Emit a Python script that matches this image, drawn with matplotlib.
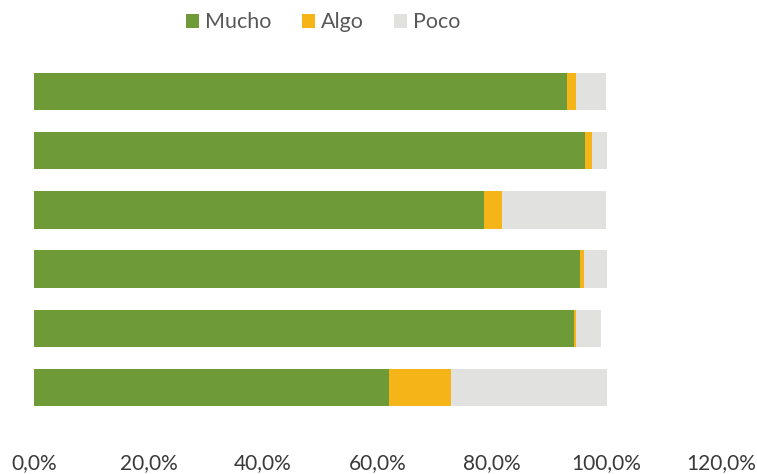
import matplotlib
import matplotlib.pyplot as plt
from matplotlib.ticker import FuncFormatter
matplotlib.use('Agg')

categories = ["1", "2", "3", "4", "5", "6"]
mucho = [93.1, 96.2, 78.6, 95.4, 94.3, 62.0]
algo = [1.6, 1.2, 3.1, 0.7, 0.3, 10.9]
poco = [5.3, 2.6, 18.3, 3.9, 4.4, 27.1]
xticks = [0, 20, 40, 60, 80, 100, 120]


def main():
    plt.rcParams['font.family'] = ['Lato', 'DejaVu Sans']
    fig = plt.figure(figsize=(7.57, 4.74), dpi=100)
    ax = fig.add_axes([34 / 757, 1 - 417 / 474, 687 / 757, 355 / 474])

    pos = list(range(len(categories)))
    left2 = [m + a for m, a in zip(mucho, algo)]
    ax.barh(pos, mucho, height=0.63, color="#6E9A37", label="Mucho")
    ax.barh(pos, algo, left=mucho, height=0.63, color="#F5B417",
            label="Algo")
    ax.barh(pos, poco, left=left2, height=0.63, color="#E1E1E0",
            label="Poco")

    ax.set_ylim(len(categories) - 0.5, -0.5)
    ax.set_xlim(0, 120)
    ax.set_xticks(xticks)
    ax.xaxis.set_major_formatter(
        FuncFormatter(lambda v, p: f"{v:.1f}%".replace(".", ",")))
    ax.tick_params(axis='x', length=0, pad=26, labelsize=15,
                   labelcolor="#3A3A3A")
    ax.set_yticks([])
    for s in ax.spines.values():
        s.set_visible(False)

    fig.legend(loc='upper center', bbox_to_anchor=(0.427, 1.015), ncol=3,
               frameon=False, fontsize=15.5, handlelength=0.6,
               handleheight=0.6, handletextpad=0.3, columnspacing=1.4,
               labelcolor="#595959")
    plt.savefig("out.png")


if __name__ == "__main__":
    main()
